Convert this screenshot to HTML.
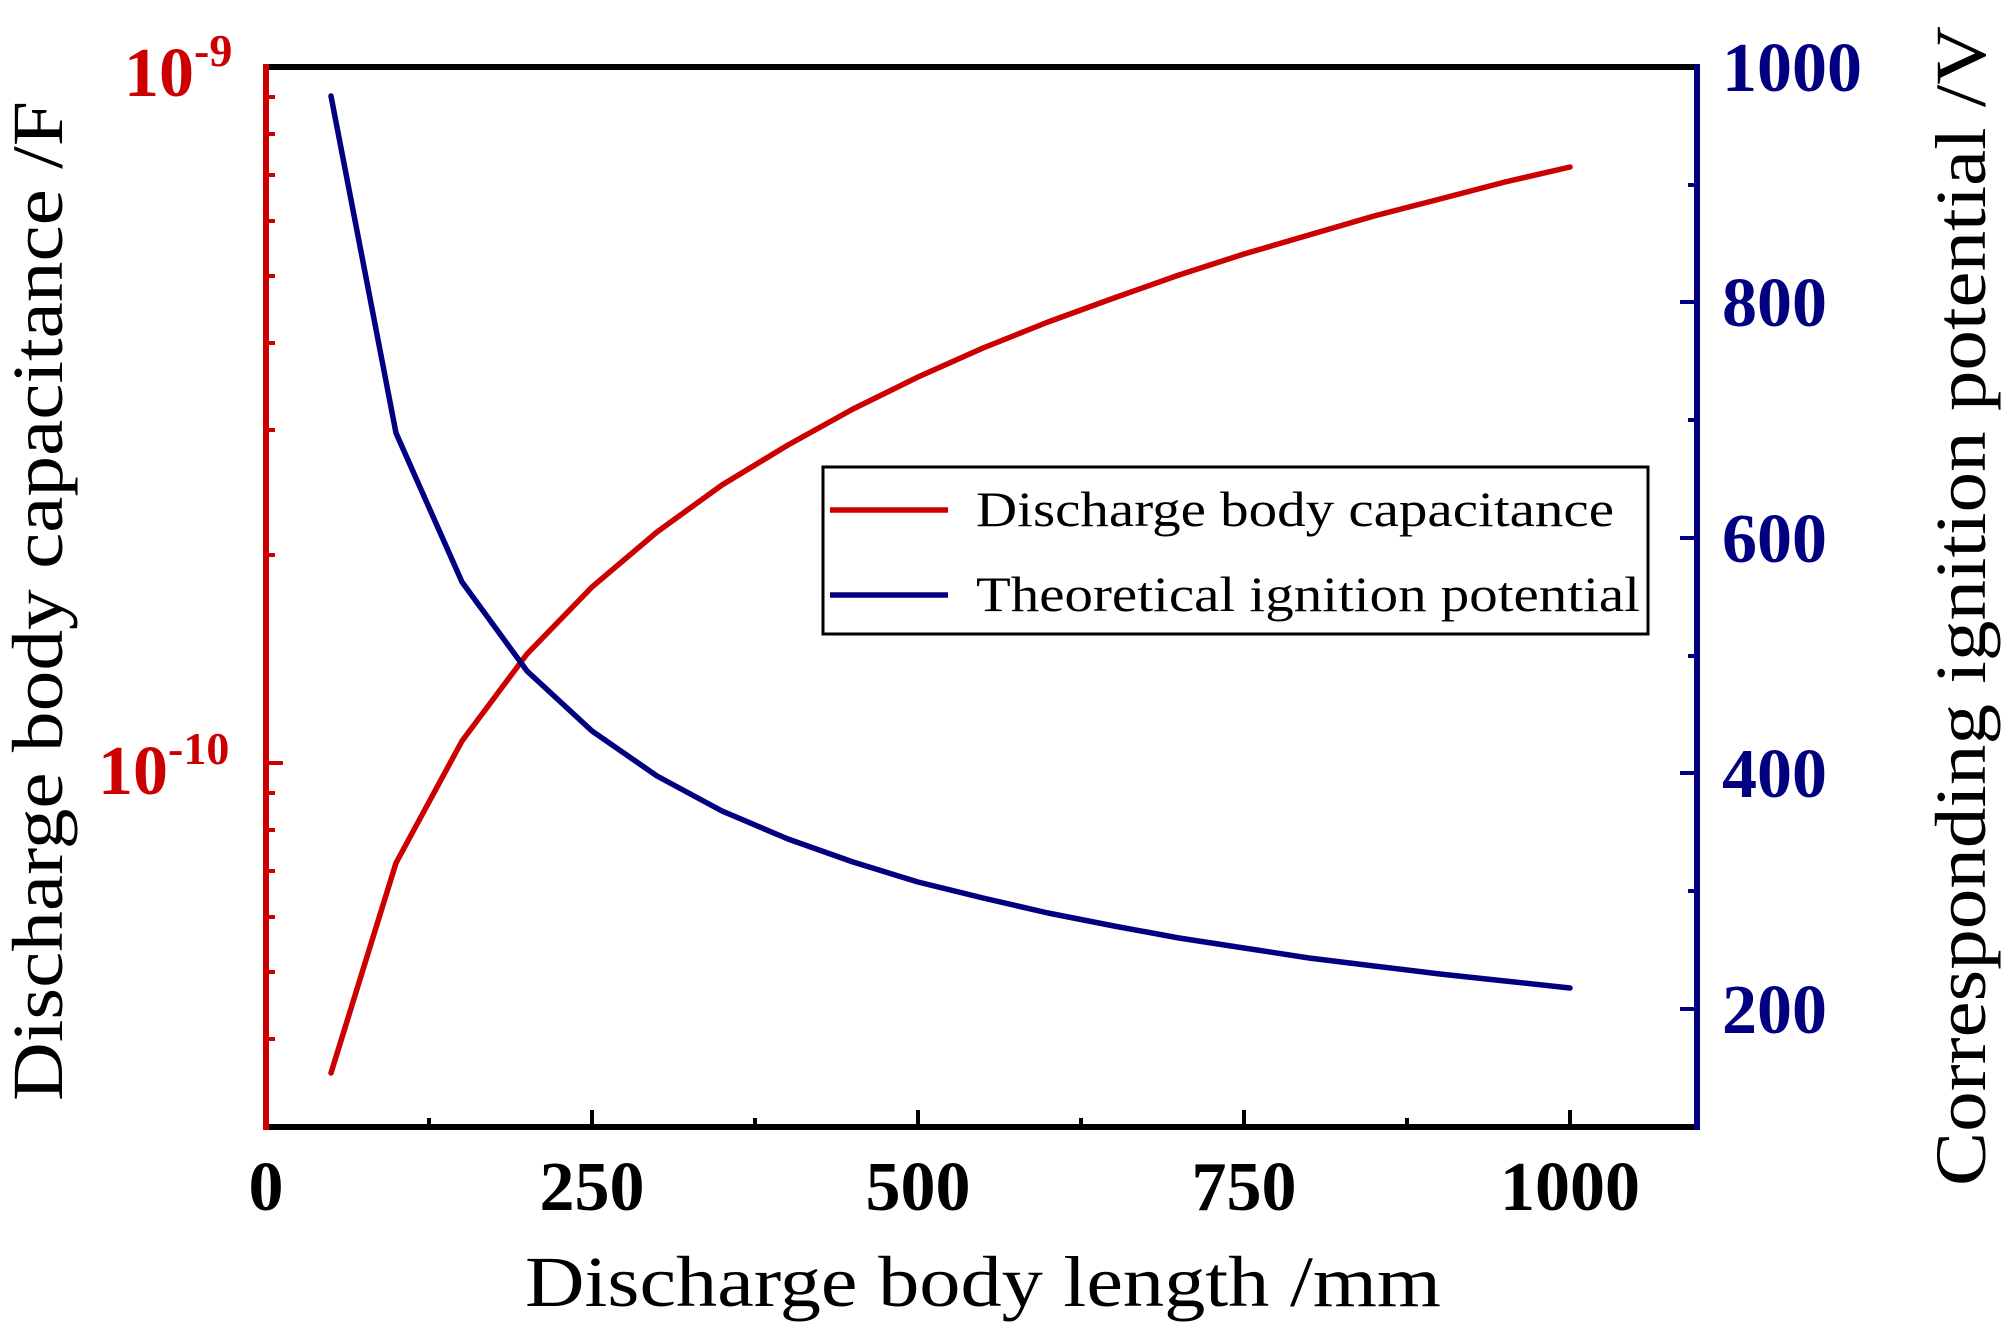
<!DOCTYPE html>
<html><head><meta charset="utf-8"><style>html,body{margin:0;padding:0;background:#fff}svg{display:block}</style></head>
<body>
<svg width="2008" height="1336" viewBox="0 0 2008 1336" xmlns="http://www.w3.org/2000/svg" font-family="Liberation Serif, serif">
<rect width="2008" height="1336" fill="#fff"/>
<g stroke="#000" stroke-width="4">
<line x1="266" y1="1127" x2="266" y2="1110"/>
<line x1="592" y1="1127" x2="592" y2="1110"/>
<line x1="918" y1="1127" x2="918" y2="1110"/>
<line x1="1244" y1="1127" x2="1244" y2="1110"/>
<line x1="1570" y1="1127" x2="1570" y2="1110"/>
<line x1="429" y1="1127" x2="429" y2="1118"/>
<line x1="755" y1="1127" x2="755" y2="1118"/>
<line x1="1081" y1="1127" x2="1081" y2="1118"/>
<line x1="1407" y1="1127" x2="1407" y2="1118"/>
</g>
<g stroke="#cc0000" stroke-width="4">
<line x1="266" y1="763" x2="283" y2="763"/>
<line x1="266" y1="97" x2="275" y2="97"/>
<line x1="266" y1="134" x2="275" y2="134"/>
<line x1="266" y1="175" x2="275" y2="175"/>
<line x1="266" y1="221" x2="275" y2="221"/>
<line x1="266" y1="276" x2="275" y2="276"/>
<line x1="266" y1="343" x2="275" y2="343"/>
<line x1="266" y1="430" x2="275" y2="430"/>
<line x1="266" y1="555" x2="275" y2="555"/>
<line x1="266" y1="793" x2="275" y2="793"/>
<line x1="266" y1="830" x2="275" y2="830"/>
<line x1="266" y1="871" x2="275" y2="871"/>
<line x1="266" y1="917" x2="275" y2="917"/>
<line x1="266" y1="972" x2="275" y2="972"/>
<line x1="266" y1="1039" x2="275" y2="1039"/>
</g>
<g stroke="#000080" stroke-width="4">
<line x1="1697" y1="302" x2="1680" y2="302"/>
<line x1="1697" y1="538" x2="1680" y2="538"/>
<line x1="1697" y1="773" x2="1680" y2="773"/>
<line x1="1697" y1="1009" x2="1680" y2="1009"/>
<line x1="1697" y1="185" x2="1688" y2="185"/>
<line x1="1697" y1="420" x2="1688" y2="420"/>
<line x1="1697" y1="656" x2="1688" y2="656"/>
<line x1="1697" y1="891" x2="1688" y2="891"/>
</g>
<line x1="266" y1="67" x2="1697" y2="67" stroke="#000" stroke-width="6"/>
<line x1="266" y1="1127" x2="1697" y2="1127" stroke="#000" stroke-width="6"/>
<line x1="266" y1="64" x2="266" y2="1130" stroke="#cc0000" stroke-width="6"/>
<line x1="1697" y1="64" x2="1697" y2="1130" stroke="#000080" stroke-width="6"/>
<polyline fill="none" stroke="#cc0000" stroke-width="5.5" stroke-linejoin="round" stroke-linecap="round" points="331,1073 396,863 462,741 527,654 592,587 657,532 722,485 788,445 853,409 918,377 983,348 1048,322 1114,298 1179,275 1244,254 1309,235 1374,216 1440,199 1505,182 1570,167"/>
<polyline fill="none" stroke="#000080" stroke-width="5.5" stroke-linejoin="round" stroke-linecap="round" points="331,96 396,433 462,582 527,671 592,731 657,776 722,811 788,839 853,862 918,882 983,898 1048,913 1114,926 1179,938 1244,948 1309,958 1374,966 1440,974 1505,981 1570,988"/>
<rect x="823" y="467" width="825" height="167" fill="#fff" stroke="#000" stroke-width="3"/>
<line x1="830" y1="510" x2="948" y2="510" stroke="#cc0000" stroke-width="5.5"/>
<line x1="830" y1="595" x2="948" y2="595" stroke="#000080" stroke-width="5.5"/>
<text x="976" y="526" font-size="50" textLength="638" lengthAdjust="spacingAndGlyphs">Discharge body capacitance</text>
<text x="976" y="611" font-size="50" textLength="664" lengthAdjust="spacingAndGlyphs">Theoretical ignition potential</text>
<g font-size="70" font-weight="bold" text-anchor="middle">
<text x="266" y="1210">0</text>
<text x="592" y="1210">250</text>
<text x="918" y="1210">500</text>
<text x="1244" y="1210">750</text>
<text x="1570" y="1210">1000</text>
</g>
<g font-size="70" font-weight="bold" fill="#000080">
<text x="1722" y="91">1000</text>
<text x="1722" y="326">800</text>
<text x="1722" y="562">600</text>
<text x="1722" y="797">400</text>
<text x="1722" y="1033">200</text>
</g>
<g font-weight="bold" fill="#cc0000">
<text x="124" y="96" font-size="70">10<tspan font-size="46" dy="-30">-9</tspan></text>
<text x="98" y="794" font-size="70">10<tspan font-size="46" dy="-30">-10</tspan></text>
</g>
<text x="983" y="1306" font-size="72" text-anchor="middle" textLength="916" lengthAdjust="spacingAndGlyphs">Discharge body length /mm</text>
<text transform="translate(62,601) rotate(-90)" font-size="72" text-anchor="middle" textLength="1000" lengthAdjust="spacingAndGlyphs">Discharge body capacitance /F</text>
<text transform="translate(1985,606) rotate(-90)" font-size="72" text-anchor="middle" textLength="1160" lengthAdjust="spacingAndGlyphs">Corresponding ignition potential /V</text>
</svg>
</body></html>
